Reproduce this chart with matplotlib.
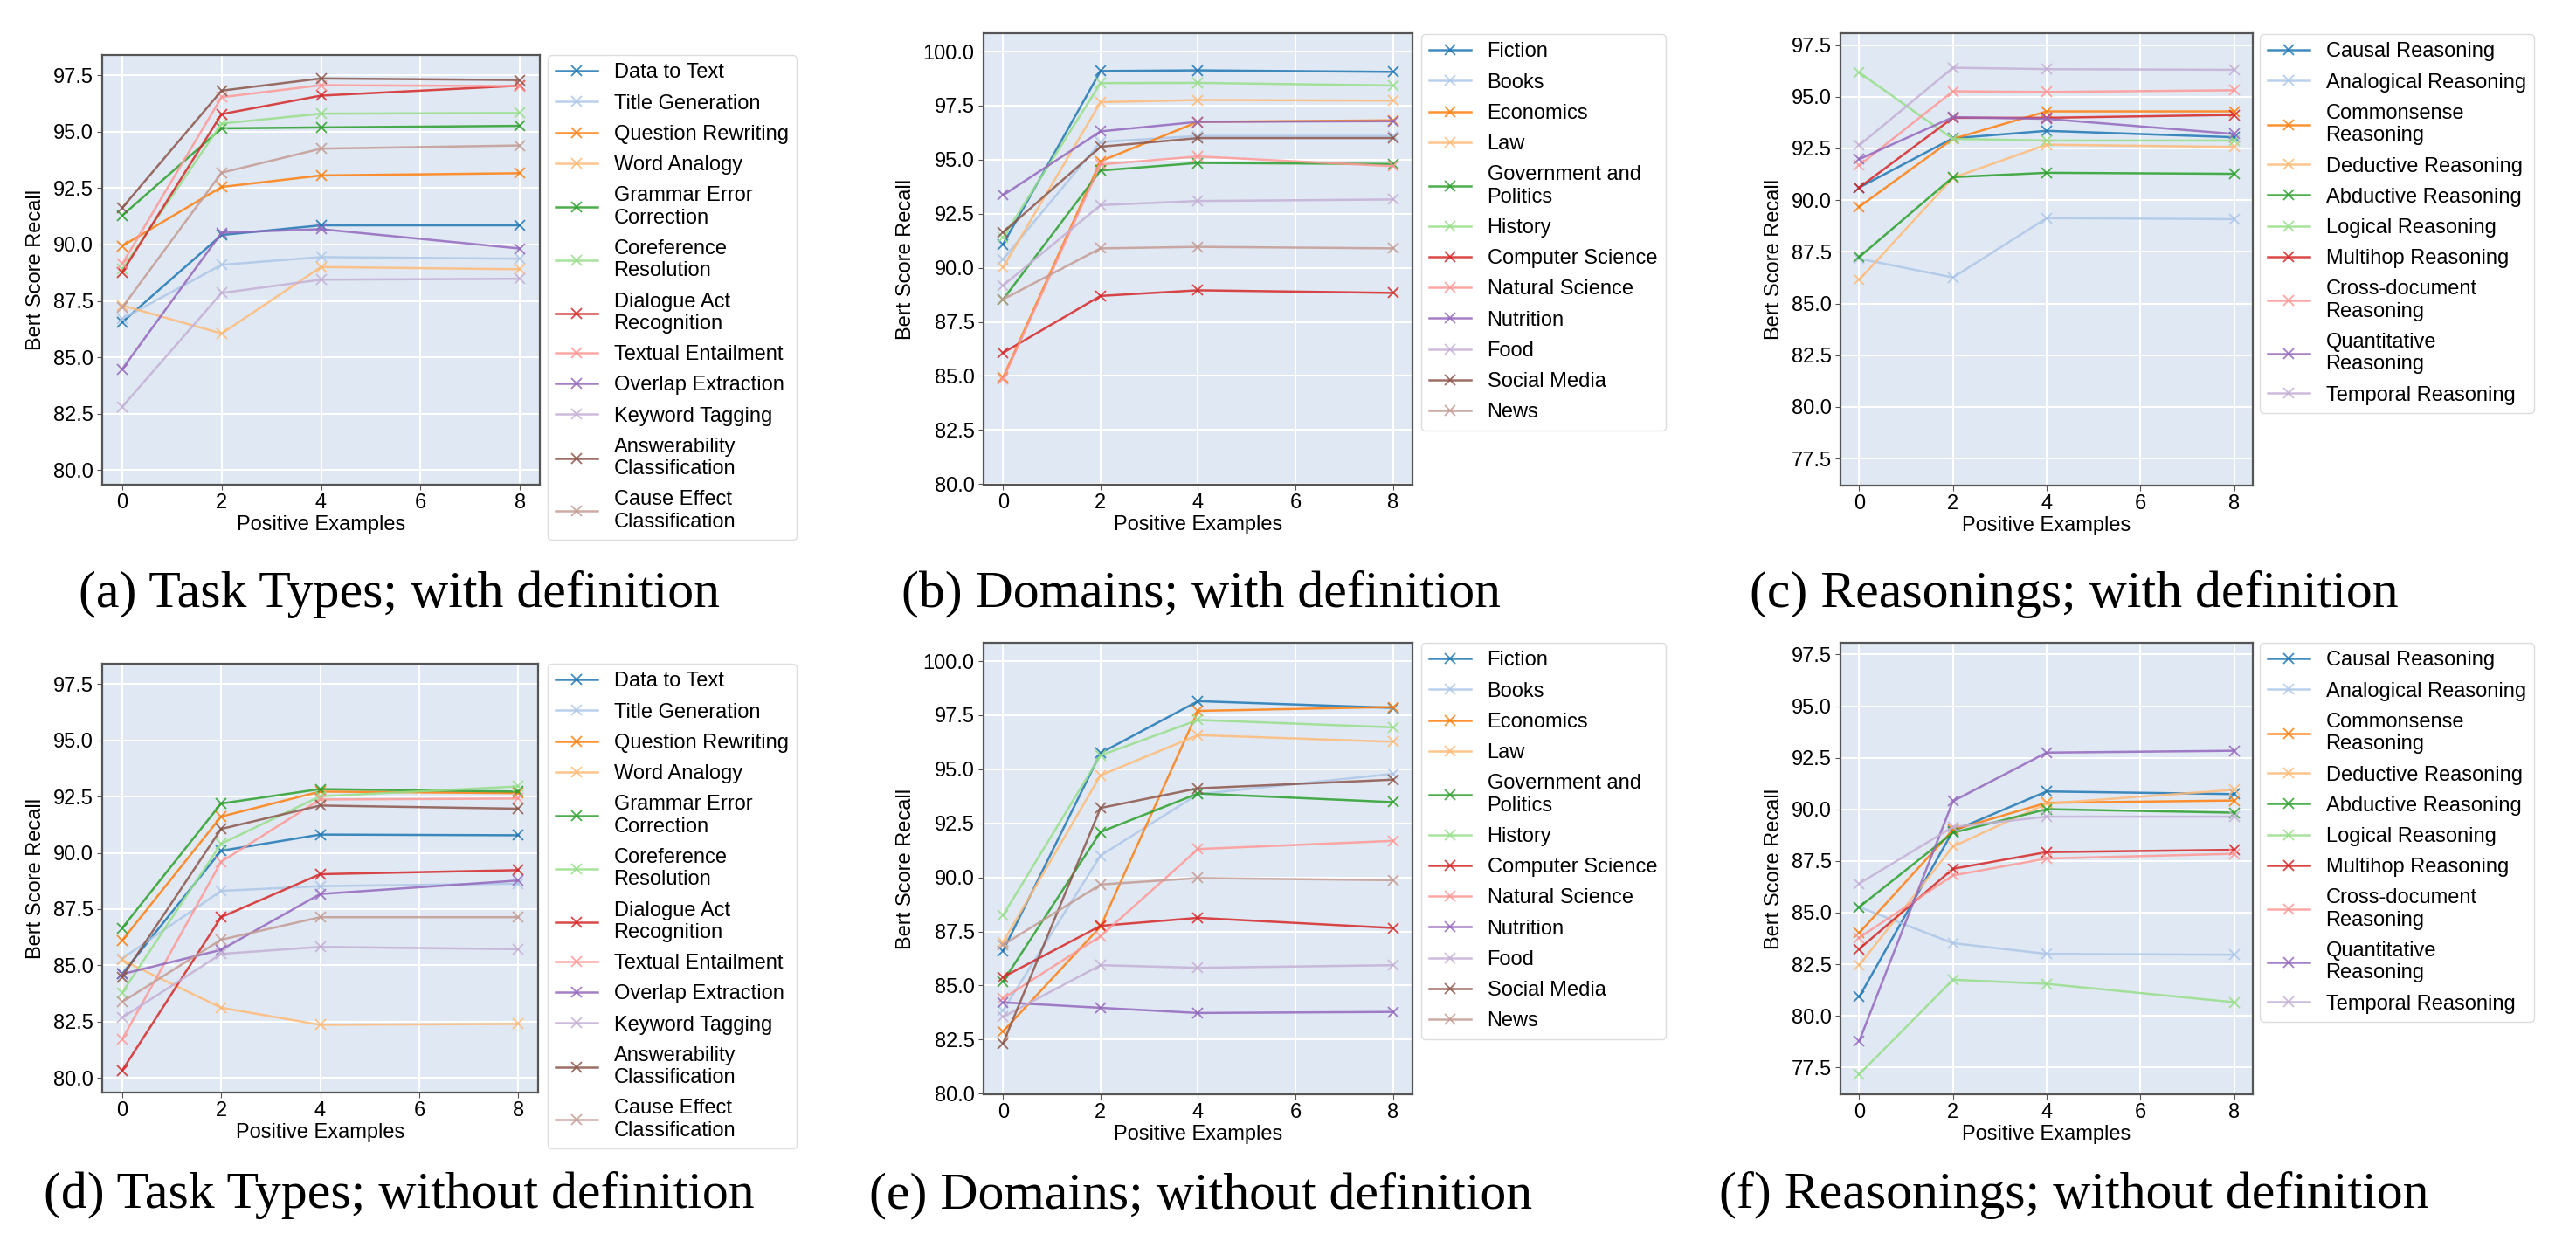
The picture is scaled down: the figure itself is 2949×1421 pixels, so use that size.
"""Bert Score Recall vs number of positive examples, six panels (a)-(f)."""

import matplotlib
matplotlib.use("Agg")
import matplotlib.pyplot as plt

plt.rcParams["font.family"] = ["Liberation Sans", "DejaVu Sans"]

SHOTS = [0, 2, 4, 8]

TASK_LABELS = ["Data to Text", "Title Generation", "Question Rewriting", "Word Analogy",
               "Grammar Error\nCorrection", "Coreference\nResolution",
               "Dialogue Act\nRecognition", "Textual Entailment", "Overlap Extraction",
               "Keyword Tagging", "Answerability\nClassification",
               "Cause Effect\nClassification"]
DOMAIN_LABELS = ["Fiction", "Books", "Economics", "Law", "Government and\nPolitics",
                 "History", "Computer Science", "Natural Science", "Nutrition", "Food",
                 "Social Media", "News"]
REASON_LABELS = ["Causal Reasoning", "Analogical Reasoning", "Commonsense\nReasoning",
                 "Deductive Reasoning", "Abductive Reasoning", "Logical Reasoning",
                 "Multihop Reasoning", "Cross-document\nReasoning",
                 "Quantitative\nReasoning", "Temporal Reasoning"]

# (a) task types, with definition
task_def = [
    [86.55, 90.42, 90.85, 90.85],
    [86.7, 89.1, 89.44, 89.37],
    [89.93, 92.55, 93.06, 93.16],
    [87.3, 86.05, 89.0, 88.9],
    [91.28, 95.15, 95.19, 95.26],
    [88.9, 95.36, 95.8, 95.83],
    [88.76, 95.78, 96.6, 97.04],
    [89.13, 96.53, 97.06, 97.02],
    [84.47, 90.52, 90.68, 89.82],
    [82.8, 87.85, 88.44, 88.48],
    [91.62, 96.82, 97.36, 97.29],
    [87.2, 93.18, 94.25, 94.39],
]
# (b) domains, with definition
domain_def = [
    [91.09, 99.1, 99.13, 99.06],
    [90.4, 95.82, 96.1, 96.1],
    [84.93, 94.93, 96.75, 96.82],
    [90.03, 97.66, 97.76, 97.73],
    [88.54, 94.5, 94.85, 94.8],
    [91.4, 98.54, 98.55, 98.43],
    [86.07, 88.7, 88.96, 88.84],
    [84.85, 94.78, 95.15, 94.7],
    [93.36, 96.31, 96.75, 96.78],
    [89.18, 92.9, 93.09, 93.16],
    [91.64, 95.6, 96.0, 96.0],
    [88.54, 90.9, 90.97, 90.9],
]
# (c) reasonings, with definition
reason_def = [
    [90.61, 92.99, 93.35, 93.04],
    [87.17, 86.26, 89.13, 89.08],
    [89.68, 92.96, 94.29, 94.29],
    [86.15, 91.08, 92.68, 92.57],
    [87.25, 91.11, 91.32, 91.27],
    [96.17, 92.96, 92.88, 92.88],
    [90.61, 93.98, 93.98, 94.12],
    [91.68, 95.26, 95.23, 95.31],
    [91.98, 94.01, 93.93, 93.2],
    [92.65, 96.4, 96.33, 96.3],
]
# (d) task types, without definition
task_nodef = [
    [84.61, 90.09, 90.81, 90.78],
    [85.3, 88.31, 88.52, 88.63],
    [86.1, 91.61, 92.72, 92.65],
    [85.24, 83.12, 82.36, 82.4],
    [86.65, 92.19, 92.83, 92.72],
    [83.78, 90.4, 92.51, 92.95],
    [80.32, 87.14, 89.05, 89.23],
    [81.7, 89.6, 92.37, 92.41],
    [84.61, 85.69, 88.17, 88.77],
    [82.67, 85.51, 85.82, 85.72],
    [84.48, 91.06, 92.1, 91.96],
    [83.37, 86.14, 87.14, 87.14],
]
# (e) domains, without definition
domain_nodef = [
    [86.61, 95.75, 98.15, 97.84],
    [83.85, 91.01, 93.85, 94.79],
    [82.88, 87.73, 97.7, 97.88],
    [87.01, 94.72, 96.58, 96.27],
    [85.19, 92.1, 93.88, 93.48],
    [88.25, 95.64, 97.28, 96.94],
    [85.39, 87.76, 88.13, 87.66],
    [84.4, 87.28, 91.31, 91.69],
    [84.22, 83.97, 83.73, 83.78],
    [83.55, 85.94, 85.82, 85.94],
    [82.33, 93.21, 94.12, 94.52],
    [86.88, 89.67, 89.97, 89.87],
]
# (f) reasonings, without definition
reason_nodef = [
    [80.92, 88.95, 90.87, 90.74],
    [85.27, 83.52, 83.0, 82.96],
    [84.02, 89.0, 90.32, 90.43],
    [82.46, 88.2, 90.28, 90.95],
    [85.27, 88.87, 90.01, 89.84],
    [77.17, 81.75, 81.55, 80.66],
    [83.24, 87.12, 87.93, 88.04],
    [83.79, 86.8, 87.62, 87.85],
    [78.78, 90.4, 92.75, 92.84],
    [86.41, 89.15, 89.65, 89.65],
]

CAPTIONS = ["(a) Task Types; with definition", "(b) Domains; with definition",
            "(c) Reasonings; with definition", "(d) Task Types; without definition",
            "(e) Domains; without definition", "(f) Reasonings; without definition"]

W, H = 2949, 1421
colors = plt.get_cmap("tab20").colors

# pixel boxes: (left, top, right, bottom) of each axes, legend anchor, caption centre
panels = [
    (task_def, TASK_LABELS, (117, 63, 618, 555), (627, 63), (79.35, 98.4), (457, 680)),
    (domain_def, DOMAIN_LABELS, (1126, 38, 1617, 555), (1627, 39), (79.97, 100.85), (1375, 680)),
    (reason_def, REASON_LABELS, (2107, 38, 2579, 556), (2587, 39), (76.2, 98.07), (2374, 680)),
    (task_nodef, TASK_LABELS, (117, 760, 616, 1251), (627, 760), (79.35, 98.4), (457, 1369)),
    (domain_nodef, DOMAIN_LABELS, (1126, 736, 1617, 1253), (1627, 736), (79.97, 100.85), (1375, 1369)),
    (reason_nodef, REASON_LABELS, (2107, 736, 2579, 1253), (2587, 736), (76.2, 98.07), (2374, 1369)),
]

fig = plt.figure(figsize=(W / 100, H / 100), dpi=100)

for (series, labels, box, leg, ylim, cap), caption in zip(panels, CAPTIONS):
    l, t, r, b = box
    ax = fig.add_axes([l / W, 1 - b / H, (r - l) / W, (b - t) / H])
    ax.set_facecolor("#dfe8f3")
    for i, (name, ys) in enumerate(zip(labels, series)):
        ax.plot(SHOTS, ys, marker="x", color=colors[i], lw=1.8, ms=9, mew=1.3,
                alpha=0.85, label=name)
    ax.set_xlim(-0.4, 8.4)
    ax.set_ylim(*ylim)
    ax.set_xticks([0, 2, 4, 6, 8])
    ax.yaxis.set_major_locator(plt.MultipleLocator(2.5))
    ax.yaxis.set_major_formatter(plt.FormatStrFormatter("%.1f"))
    ax.grid(True, color="white", lw=1.5)
    ax.set_axisbelow(True)
    for s in ax.spines.values():
        s.set_color("#555555")
        s.set_linewidth(1.6)
    ax.tick_params(labelsize=17, length=4, color="#555555")
    ax.set_xlabel("Positive Examples", fontsize=17, labelpad=2)
    ax.set_ylabel("Bert Score Recall", fontsize=17, labelpad=6)
    ax.legend(loc="upper left", bbox_to_anchor=(leg[0] / W, 1 - leg[1] / H),
              bbox_transform=fig.transFigure, borderaxespad=0, fontsize=17,
              labelspacing=0.56, handlelength=2.0, framealpha=1, edgecolor="#dddddd")
    fig.text(cap[0] / W, 1 - cap[1] / H, caption, ha="center", va="center",
             fontsize=43, family=["Liberation Serif", "DejaVu Serif"])

fig.savefig("out.png", dpi=100)
